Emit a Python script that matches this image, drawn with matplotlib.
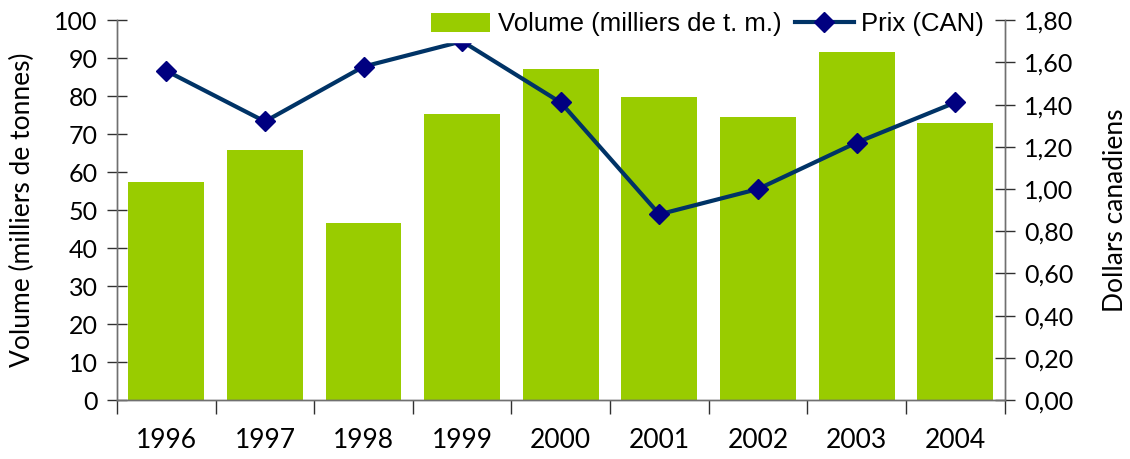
import matplotlib
matplotlib.use("Agg")
import matplotlib.pyplot as plt
from matplotlib.ticker import FixedLocator, FuncFormatter, NullFormatter

# data
years = ["1996", "1997", "1998", "1999", "2000", "2001", "2002", "2003", "2004"]
volume = [57.4, 65.8, 46.7, 75.3, 87.1, 79.7, 74.5, 91.6, 72.9]
prix = [1.56, 1.32, 1.58, 1.70, 1.41, 0.88, 1.00, 1.22, 1.41]

BAR_COLOR = "#99CC00"
LINE_COLOR = "#003366"
MARKER_COLOR = "#000080"
SPINE_COLOR = "#707070"
AXIS_FONT = "Lato"

plt.rcParams["font.family"] = [AXIS_FONT, "DejaVu Sans"]

fig = plt.figure(figsize=(11.3, 4.59), dpi=100)
ax = fig.add_axes([0.1035, 0.1285, 0.7855, 0.8275])
ax2 = ax.twinx()

x = list(range(len(years)))
bars = ax.bar(x, volume, width=0.77, color=BAR_COLOR, zorder=2,
              label="Volume (milliers de t. m.)")
line, = ax2.plot(x, prix, color=LINE_COLOR, linewidth=3, marker="D",
                 markersize=10, markerfacecolor=MARKER_COLOR,
                 markeredgecolor=MARKER_COLOR, label="Prix (CAN)", zorder=3)

ax.set_xlim(-0.5, len(years) - 0.5)
ax.set_ylim(0, 100)
ax2.set_ylim(0, 1.8)

# spines
for a in (ax, ax2):
    a.spines["top"].set_visible(False)
    for s in ("left", "right", "bottom"):
        a.spines[s].set_color(SPINE_COLOR)
        a.spines[s].set_linewidth(1)

# x ticks: boundaries as major ticks, year labels as minor
ax.xaxis.set_major_locator(FixedLocator([i - 0.5 for i in range(len(years) + 1)]))
ax.xaxis.set_major_formatter(NullFormatter())
ax.xaxis.set_minor_locator(FixedLocator(x))
ax.set_xticklabels(years, minor=True)
ax.tick_params(axis="x", which="major", direction="out", length=10, width=1,
               color="#303030")
ax.tick_params(axis="x", which="minor", length=0, pad=20, labelsize=19)

# left axis
ax.set_yticks(range(0, 101, 10))
ax.tick_params(axis="y", direction="inout", length=14, width=1, color="#303030",
               labelsize=18, pad=7)
ax.set_ylabel("Volume (milliers de tonnes)", fontsize=19)
ax.yaxis.set_label_coords(-0.106, 0.5)
ax.yaxis.label.set_verticalalignment("center")

# right axis
ax2.set_yticks([i * 0.2 for i in range(10)])
ax2.yaxis.set_major_formatter(FuncFormatter(lambda v, p: f"{v:.2f}".replace(".", ",")))
ax2.tick_params(axis="y", direction="inout", length=14, width=1, color="#303030",
                labelsize=18, pad=7)
ax2.set_ylabel("Dollars canadiens", fontsize=19)
ax2.yaxis.set_label_coords(1.1255, 0.5)
ax2.yaxis.label.set_verticalalignment("center")

leg = fig.legend(handles=[bars, line], loc="upper right", ncol=2,
                 bbox_to_anchor=(0.887, 1.012), frameon=True, fancybox=False,
                 edgecolor="white", facecolor="white", framealpha=1,
                 prop={"family": "Liberation Sans", "size": 18.5},
                 handlelength=2.3, handleheight=0.8, columnspacing=0.5,
                 handletextpad=0.3, borderpad=0.2)
leg.set_zorder(10)

fig.savefig("out.png", dpi=100)
